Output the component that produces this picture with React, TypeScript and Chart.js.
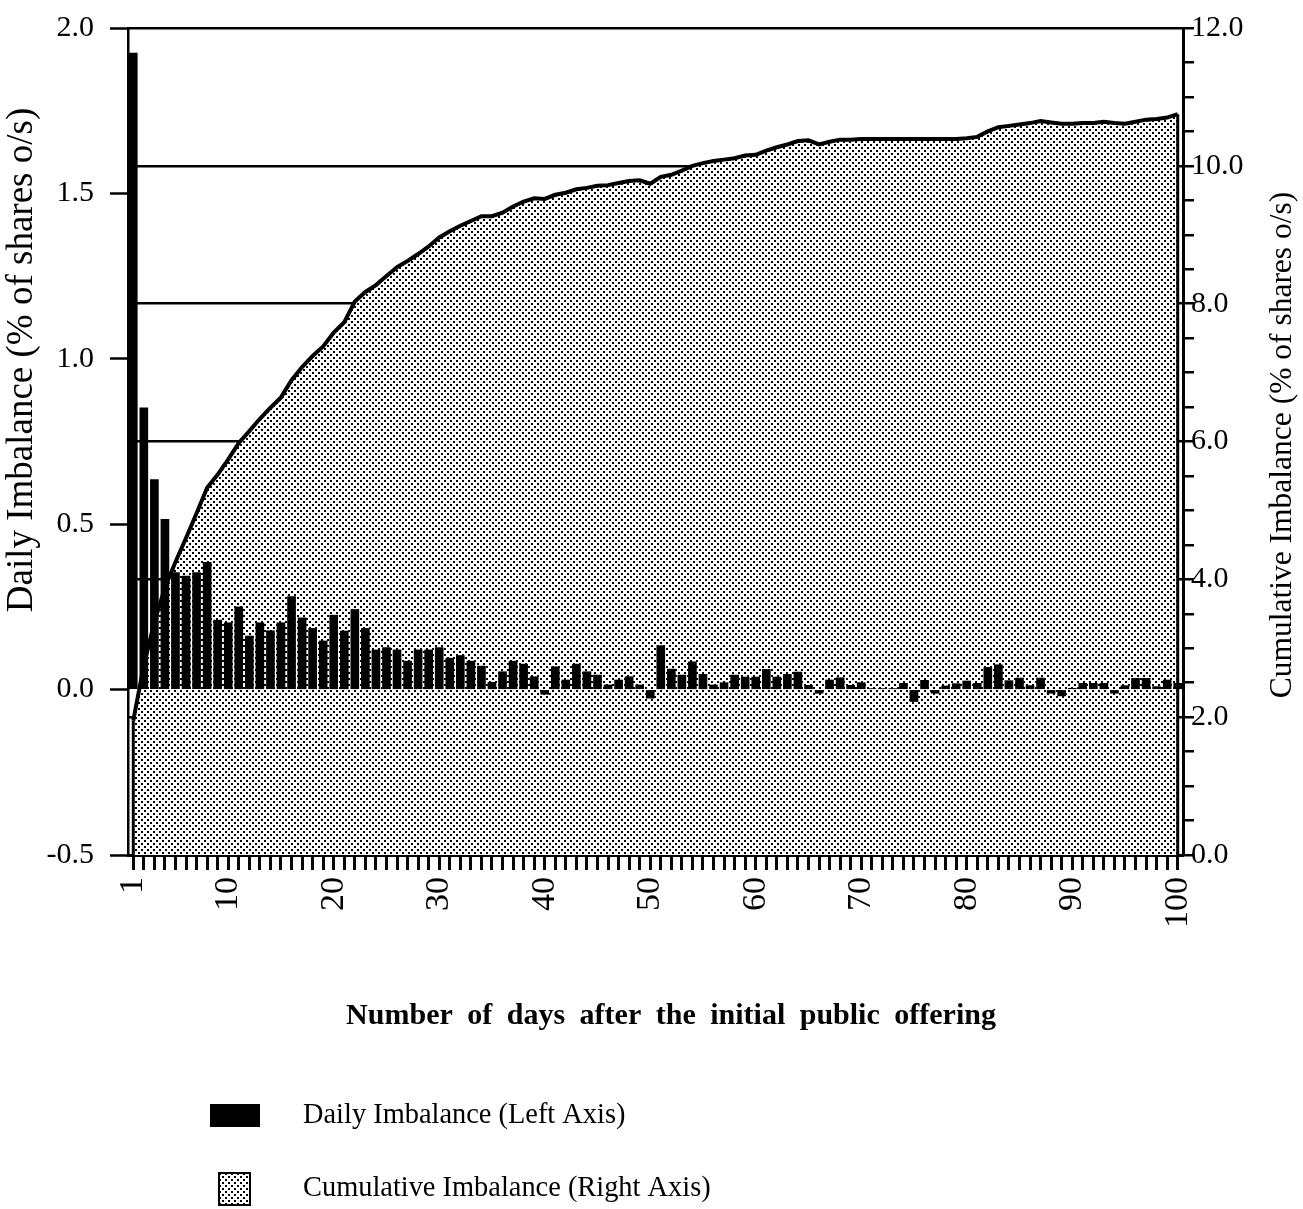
import React, { useEffect, useRef } from 'react';
import { Chart, registerables } from 'chart.js';

Chart.register(...registerables);

// ---------- data ----------
const days: string[] = Array.from({ length: 100 }, (_, i) => String(i + 1));
const labeledDays = ['1', '10', '20', '30', '40', '50', '60', '70', '80', '90', '100'];

const dailyImbalance = [
  1.925, 0.853, 0.636, 0.516, 0.355, 0.344, 0.355, 0.386, 0.211, 0.203,
  0.251, 0.163, 0.203, 0.179, 0.203, 0.282, 0.218, 0.186, 0.148, 0.226,
  0.178, 0.243, 0.186, 0.121, 0.128, 0.121, 0.087, 0.121, 0.121, 0.128,
  0.096, 0.104, 0.087, 0.072, 0.023, 0.055, 0.087, 0.078, 0.040, -0.015,
  0.070, 0.030, 0.078, 0.055, 0.045, 0.015, 0.030, 0.040, 0.015, -0.027,
  0.134, 0.063, 0.045, 0.085, 0.047, 0.015, 0.022, 0.045, 0.039, 0.039,
  0.062, 0.039, 0.047, 0.054, 0.014, -0.012, 0.030, 0.037, 0.014, 0.022,
  0.004, 0.004, 0.004, 0.020, -0.037, 0.029, -0.012, 0.012, 0.019, 0.027,
  0.020, 0.068, 0.076, 0.028, 0.036, 0.013, 0.036, -0.012, -0.020, 0.005,
  0.020, 0.020, 0.020, -0.012, 0.013, 0.035, 0.035, 0.010, 0.030, 0.020,
];

const cumulativeImbalance = [
  1.95, 2.75, 3.38, 3.88, 4.25, 4.60, 4.96, 5.33, 5.52, 5.74,
  5.98, 6.15, 6.33, 6.49, 6.64, 6.89, 7.08, 7.24, 7.38, 7.58,
  7.73, 8.03, 8.17, 8.27, 8.40, 8.53, 8.62, 8.72, 8.83, 8.96,
  9.05, 9.13, 9.20, 9.27, 9.27, 9.32, 9.41, 9.48, 9.53, 9.52,
  9.58, 9.61, 9.66, 9.68, 9.71, 9.72, 9.75, 9.78, 9.79, 9.74,
  9.84, 9.87, 9.93, 10.00, 10.04, 10.07, 10.09, 10.11, 10.15, 10.16,
  10.22, 10.27, 10.31, 10.36, 10.37, 10.31, 10.35, 10.38, 10.38, 10.39,
  10.39, 10.39, 10.39, 10.39, 10.39, 10.39, 10.39, 10.39, 10.39, 10.40,
  10.42, 10.50, 10.56, 10.58, 10.60, 10.62, 10.65, 10.63, 10.61, 10.61,
  10.62, 10.62, 10.64, 10.62, 10.61, 10.64, 10.67, 10.68, 10.70, 10.75,
];

const leftMin = -0.5;
const leftMax = 2.0;
const leftStep = 0.5;
const rightMin = 0;
const rightMax = 12;
const rightStep = 0.5;
const rightLabelEvery = 2;

const dailyLabel = 'Daily Imbalance (Left Axis)';
const cumulativeLabel = 'Cumulative Imbalance (Right Axis)';
const xTitle = 'Number of days after the initial public offering';
const leftTitle = 'Daily Imbalance (% of shares o/s)';
const rightTitle = 'Cumulative Imbalance (% of shares o/s)';

const SERIF = '"Liberation Serif", "Times New Roman", serif';

function makePattern(ctx: CanvasRenderingContext2D): CanvasPattern | string {
  const c = document.createElement('canvas');
  c.width = 6;
  c.height = 6;
  const g = c.getContext('2d');
  if (!g) return '#ccc';
  g.fillStyle = '#fff';
  g.fillRect(0, 0, 6, 6);
  g.fillStyle = '#000';
  g.fillRect(0, 0, 2, 2);
  g.fillRect(3, 3, 2, 2);
  return ctx.createPattern(c, 'repeat') || '#ccc';
}

export default function App() {
  const ref = useRef<HTMLCanvasElement | null>(null);

  useEffect(() => {
    const canvas = ref.current;
    if (!canvas) return;
    const ctx0 = canvas.getContext('2d') as CanvasRenderingContext2D;
    const pattern = makePattern(ctx0);

    const edgePlugin = {
      id: 'areaEdges',
      afterDatasetDraw(chart: any, args: any) {
        if (args.index !== 1) return;
        const pts = args.meta.data;
        if (!pts || !pts.length) return;
        const y0 = chart.scales.y2.getPixelForValue(rightMin);
        const ctx = chart.ctx;
        ctx.save();
        ctx.strokeStyle = '#000';
        ctx.lineWidth = 3;
        [pts[0], pts[pts.length - 1]].forEach((p: any) => {
          ctx.beginPath();
          ctx.moveTo(p.x, y0);
          ctx.lineTo(p.x, p.y);
          ctx.stroke();
        });
        ctx.restore();
      },
    };

    const textPlugin = {
      id: 'titlesAndLegend',
      afterDraw(chart: any) {
        const ctx = chart.ctx as CanvasRenderingContext2D;
        ctx.save();
        ctx.fillStyle = '#000';
        // left title (bottom to top)
        ctx.save();
        ctx.translate(22, 360);
        ctx.rotate(-Math.PI / 2);
        ctx.font = `37px ${SERIF}`;
        ctx.textAlign = 'center';
        ctx.textBaseline = 'middle';
        ctx.fillText(leftTitle, 0, 0);
        ctx.restore();
        // right title
        ctx.save();
        ctx.translate(1283, 445);
        ctx.rotate(-Math.PI / 2);
        ctx.font = `31.5px ${SERIF}`;
        ctx.textAlign = 'center';
        ctx.textBaseline = 'middle';
        ctx.fillText(rightTitle, 0, 0);
        ctx.restore();
        // x title
        ctx.save();
        ctx.font = `bold 30px ${SERIF}`;
        (ctx as any).wordSpacing = '7px';
        ctx.textAlign = 'center';
        ctx.textBaseline = 'middle';
        ctx.fillText(xTitle, 671, 1016);
        ctx.restore();
        // legend
        ctx.fillStyle = '#000';
        ctx.fillRect(210, 1104, 50, 23);
        ctx.fillStyle = pattern as any;
        ctx.fillRect(219, 1173, 31, 32);
        ctx.strokeStyle = '#000';
        ctx.lineWidth = 2;
        ctx.strokeRect(219, 1173, 31, 32);
        ctx.fillStyle = '#000';
        ctx.font = `28.4px ${SERIF}`;
        ctx.textAlign = 'left';
        ctx.textBaseline = 'middle';
        ctx.fillText(chart.data.datasets[0].label, 303, 1116);
        ctx.fillText(chart.data.datasets[1].label, 303, 1189);
        ctx.restore();
      },
    };

    const chart = new Chart(canvas, {
      type: 'bar',
      data: {
        labels: days,
        datasets: [
          {
            type: 'bar',
            label: dailyLabel,
            data: dailyImbalance,
            backgroundColor: '#000',
            borderWidth: 0,
            barPercentage: 0.82,
            categoryPercentage: 1.0,
            yAxisID: 'y',
            order: 0,
          },
          {
            type: 'line',
            label: cumulativeLabel,
            data: cumulativeImbalance,
            borderColor: '#000',
            borderWidth: 4,
            backgroundColor: pattern as any,
            fill: 'start',
            pointRadius: 0,
            tension: 0,
            yAxisID: 'y2',
            order: 1,
          } as any,
        ],
      },
      options: {
        animation: false,
        responsive: false,
        maintainAspectRatio: false,
        layout: { padding: { top: 28, left: 0, right: 0, bottom: 0 } },
        plugins: {
          legend: { display: false },
          tooltip: { enabled: false },
          title: { display: false },
        },
        scales: {
          x: {
            type: 'category',
            offset: true,
            z: 1,
            grid: {
              offset: false,
              drawOnChartArea: false,
              drawTicks: true,
              tickLength: 15,
              tickWidth: 3,
              tickColor: '#000',
            },
            border: { display: true, color: '#000', width: 3 },
            ticks: {
              autoSkip: false,
              minRotation: 90,
              maxRotation: 90,
              padding: 7,
              color: '#000',
              font: { family: SERIF, size: 34 },
              callback: (_v: any, i: number) =>
                labeledDays.includes(days[i]) ? days[i] : '',
            },
            afterFit: (s: any) => {
              s.height = 354;
            },
          },
          y: {
            type: 'linear',
            position: 'left',
            min: leftMin,
            max: leftMax,
            grid: {
              drawOnChartArea: false,
              tickLength: 18,
              tickWidth: 2.5,
              tickColor: '#000',
            },
            border: { display: true, color: '#000', width: 2.5 },
            ticks: {
              stepSize: leftStep,
              autoSkip: false,
              padding: 16,
              color: '#000',
              font: { family: SERIF, size: 30, lineHeight: 0.6 },
              callback: (v: any) => Number(v).toFixed(1),
            },
            afterFit: (s: any) => {
              s.width = 128;
            },
          },
          y2: {
            type: 'linear',
            position: 'right',
            min: rightMin,
            max: rightMax,
            grid: {
              drawOnChartArea: true,
              color: (c: any) =>
                c.tick && Math.abs(c.tick.value % rightLabelEvery) < 1e-9 ? '#000' : 'rgba(0,0,0,0)',
              lineWidth: 2.5,
              tickLength: 11,
              tickWidth: 2.5,
              tickColor: '#000',
            },
            border: { display: true, color: '#000', width: 3 },
            ticks: {
              stepSize: rightStep,
              autoSkip: false,
              padding: -3,
              color: '#000',
              font: { family: SERIF, size: 30, lineHeight: 0.6 },
              callback: (v: any) =>
                Math.abs(Number(v) % rightLabelEvery) < 1e-9 ? Number(v).toFixed(1) : '',
            },
            afterFit: (s: any) => {
              s.width = 120;
            },
          },
        },
      } as any,
      plugins: [edgePlugin, textPlugin],
    });

    return () => chart.destroy();
  }, []);

  return (
    <div style={{ position: 'fixed', left: 0, top: 0, width: 1303, height: 1209, background: '#fff' }}>
      <canvas ref={ref} width={1303} height={1209} style={{ width: 1303, height: 1209, display: 'block' }} />
    </div>
  );
}
